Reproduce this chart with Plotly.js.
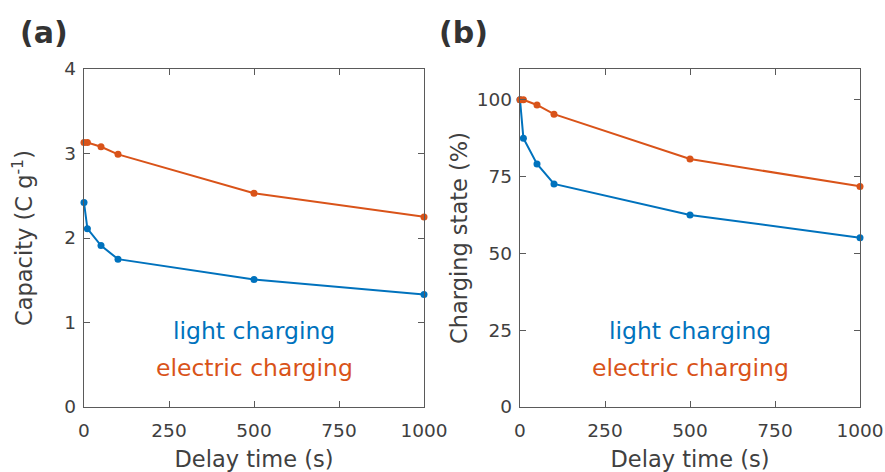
<!DOCTYPE html>
<html><head><meta charset="utf-8">
<script src="https://cdn.plot.ly/plotly-3.0.1.min.js"></script>
<style>html,body{margin:0;padding:0;background:#fff}#chart{width:885px;height:472px}</style>
</head><body><div id="chart"></div>
<script>
// Delay time (s)
const delayTime = [0, 10, 50, 100, 500, 1000];
// Panel (a): capacity (C g^-1)
const capacityLight = [2.42, 2.11, 1.91, 1.75, 1.51, 1.33];
const capacityElectric = [3.13, 3.13, 3.08, 2.99, 2.53, 2.25];
// Panel (b): charging state (%)
const stateLight = [100, 87.5, 79.1, 72.6, 62.5, 55.1];
const stateElectric = [100, 100, 98.3, 95.3, 80.7, 71.8];
const xTicks = [0, 250, 500, 750, 1000];
const yTicksA = [0, 1, 2, 3, 4];
const yTicksB = [0, 25, 50, 75, 100];

const BLUE = '#0072BD', ORANGE = '#D95319', GRAY = '#404040', AX = '#5a5a5a';
const FONT = 'DejaVu Sans, sans-serif';

function tr(x, y, color, xa, ya) {
  return {x: x, y: y, xaxis: xa, yaxis: ya, mode: 'lines+markers', type: 'scatter', cliponaxis: false,
    line: {color: color, width: 2}, marker: {color: color, size: 7}, showlegend: false, hoverinfo: 'skip'};
}
const data = [
  tr(delayTime, capacityLight, BLUE, 'x', 'y'),
  tr(delayTime, capacityElectric, ORANGE, 'x', 'y'),
  tr(delayTime, stateLight, BLUE, 'x2', 'y2'),
  tr(delayTime, stateElectric, ORANGE, 'x2', 'y2')
];

function xax(domain, anchor) {
  return {domain: domain, anchor: anchor, range: [0, 1000], tickvals: xTicks, ticks: 'inside', ticklen: 6,
    tickcolor: AX, showline: true, linecolor: AX, linewidth: 1.2, mirror: 'ticks', showgrid: false, zeroline: false,
    tickfont: {family: FONT, size: 18.5, color: GRAY}, ticklabelstandoff: 7,
    title: {text: 'Delay time (s)', font: {family: FONT, size: 22.5, color: GRAY}, standoff: 16}};
}
function yax(domain, anchor, range, ticks, title, standoff) {
  return {domain: domain, anchor: anchor, range: range, tickvals: ticks, ticks: 'inside', ticklen: 6,
    tickcolor: AX, showline: true, linecolor: AX, linewidth: 1.2, mirror: 'ticks', showgrid: false, zeroline: false,
    tickfont: {family: FONT, size: 18.5, color: GRAY}, ticklabelstandoff: 3,
    title: {text: title, font: {family: FONT, size: 22.5, color: GRAY}, standoff: standoff}};
}
const yDom = [1 - 407 / 472, 1 - 69 / 472];
const layout = {
  width: 885, height: 472, margin: {l: 0, r: 0, t: 0, b: 0},
  paper_bgcolor: '#fff', plot_bgcolor: '#fff',
  xaxis: xax([84 / 885, 424 / 885], 'y'),
  yaxis: yax(yDom, 'x', [0, 4], yTicksA, 'Capacity (C g<sup>-1</sup>)', 25),
  xaxis2: xax([520 / 885, 860 / 885], 'y2'),
  yaxis2: yax(yDom, 'x2', [0, 110], yTicksB, 'Charging state (%)', 3),
  annotations: [
    {xref: 'paper', yref: 'paper', x: 18 / 885, y: 1 - 32 / 472, xanchor: 'left', yanchor: 'middle', showarrow: false,
     text: '<b>(a)</b>', font: {family: FONT, size: 30, color: '#333'}},
    {xref: 'paper', yref: 'paper', x: 437 / 885, y: 1 - 32 / 472, xanchor: 'left', yanchor: 'middle', showarrow: false,
     text: '<b>(b)</b>', font: {family: FONT, size: 30, color: '#333'}},
    {xref: 'x', yref: 'paper', x: 500, y: 1 - 331 / 472, xanchor: 'center', yanchor: 'middle', showarrow: false,
     text: 'light charging', font: {family: FONT, size: 23.5, color: BLUE}},
    {xref: 'x', yref: 'paper', x: 500, y: 1 - 368 / 472, xanchor: 'center', yanchor: 'middle', showarrow: false,
     text: 'electric charging', font: {family: FONT, size: 23.5, color: ORANGE}},
    {xref: 'x2', yref: 'paper', x: 500, y: 1 - 331 / 472, xanchor: 'center', yanchor: 'middle', showarrow: false,
     text: 'light charging', font: {family: FONT, size: 23.5, color: BLUE}},
    {xref: 'x2', yref: 'paper', x: 500, y: 1 - 368 / 472, xanchor: 'center', yanchor: 'middle', showarrow: false,
     text: 'electric charging', font: {family: FONT, size: 23.5, color: ORANGE}}
  ]
};
Plotly.newPlot('chart', data, layout, {staticPlot: true});
</script></body></html>
